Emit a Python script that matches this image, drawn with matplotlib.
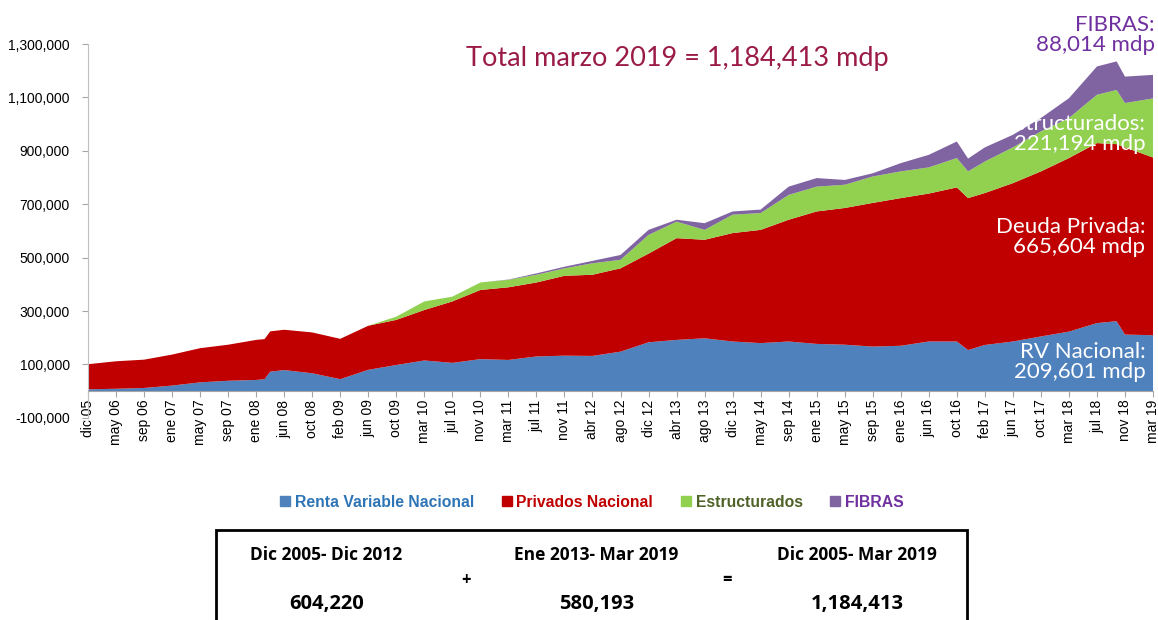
import matplotlib.pyplot as plt
from matplotlib.patches import Rectangle
from matplotlib.lines import Line2D
from matplotlib.ticker import FuncFormatter

# position along the category axis, in tick units (0 = dic 05, 38 = mar 19)
pos = [0, 1, 2, 3, 4, 5, 6, 6.3, 6.5, 7, 8, 9, 10, 11, 12, 13, 14, 15, 16, 17, 18, 19,
       20, 21, 22, 23, 24, 25, 26, 27, 28, 29, 30, 31, 31.4, 32, 33, 34, 35, 36, 36.7, 37, 38]

# saldo por tipo de instrumento, miles de millones de pesos (mdp)
rv_nacional = [7, 9, 12, 21, 33, 39, 42, 45, 73, 79, 67, 45, 80, 98, 115, 106, 120, 117, 130, 133, 132, 148,
               183, 192, 198, 186, 180, 186, 177, 174, 167, 170, 186, 186, 154, 173, 186, 205, 223, 255, 262, 212, 209.6]
privados = [94, 103, 106, 116, 128, 135, 150, 150, 151, 151, 153, 151, 165, 169, 189, 230, 259, 272, 277, 299, 304, 312,
            332, 381, 369, 406, 424, 456, 496, 512, 538, 553, 554, 577, 569, 569, 593, 618, 650, 674, 663, 701, 665.6]
estructurados = [0, 0, 0, 0, 0, 0, 0, 0, 0, 0, 0, 0, 0, 12, 32, 18, 28, 28, 29, 28, 43, 32,
                 70, 62, 37, 69, 63, 93, 93, 87, 99, 100, 98, 110, 100, 118, 134, 150, 150, 181, 203, 166, 221.2]
fibras = [0, 0, 0, 0, 0, 0, 0, 0, 0, 0, 0, 0, 0, 0, 0, 0, 0, 1, 5, 6, 9, 18,
          19, 7, 25, 12, 13, 31, 32, 18, 12, 31, 47, 62, 48, 53, 47, 50, 74, 106, 107, 99, 88.0]

tick_labels = ['dic 05', 'may 06', 'sep 06', 'ene 07', 'may 07', 'sep 07', 'ene 08', 'jun 08', 'oct 08',
               'feb 09', 'jun 09', 'oct 09', 'mar 10', 'jul 10', 'nov 10', 'mar 11', 'jul 11', 'nov 11',
               'abr 12', 'ago 12', 'dic 12', 'abr 13', 'ago 13', 'dic 13', 'may 14', 'sep 14', 'ene 15',
               'may 15', 'sep 15', 'ene 16', 'jun 16', 'oct 16', 'feb 17', 'jun 17', 'oct 17', 'mar 18',
               'jul 18', 'nov 18', 'mar 19']

series_names = ['Renta Variable Nacional', 'Privados Nacional', 'Estructurados', 'FIBRAS']
colors = ['#4F81BD', '#C00000', '#92D050', '#8064A2']
text_colors = ['#2E75B6', '#C00000', '#4F6228', '#7030A0']

periods = ['Dic 2005- Dic 2012', 'Ene 2013- Mar 2019', 'Dic 2005- Mar 2019']
period_totals = ['604,220', '580,193', '1,184,413']

plt.rcParams['font.family'] = ['Liberation Sans', 'DejaVu Sans']

fig = plt.figure(figsize=(11.58, 6.2), dpi=100)
ax = fig.add_axes([0.076, 0.326, 0.9197, 0.603])

for s in ['top', 'right']:
    ax.spines[s].set_visible(False)
ax.spines['bottom'].set_position(('data', 0))
ax.spines['bottom'].set_color('#A6A6A6')
ax.spines['left'].set_color('#BFBFBF')

k = 1000
ax.stackplot(pos, [v * k for v in rv_nacional], [v * k for v in privados],
             [v * k for v in estructurados], [v * k for v in fibras],
             colors=colors, linewidth=0)

ax.set_xlim(0, 38)
ax.set_ylim(-100000, 1300000)
ax.set_yticks(range(-100000, 1300001, 200000))
ax.yaxis.set_major_formatter(FuncFormatter(lambda v, p: f'{int(v):,}'))
ax.set_xticks(range(len(tick_labels)))
ax.set_xticklabels(tick_labels)
ax.tick_params(axis='both', colors='#A6A6A6', labelcolor='black', labelsize=10, length=4)
ax.tick_params(axis='x', labelrotation=90, pad=2)
ax.tick_params(axis='y', pad=9)

reg = {'family': 'Lato'}
fig.text(0.585, 0.906, 'Total marzo 2019 = 1,184,413 mdp', color='#9B1B48',
         fontsize=19.5, ha='center', va='center', **reg)

fig.text(0.997, 0.944, 'FIBRAS:\n88,014 mdp', color='#7030A0', fontsize=16,
         ha='right', va='center', linespacing=1.0, **reg)
fig.text(0.989, 0.784, 'Estructurados:\n221,194 mdp', color='white', fontsize=16,
         ha='right', va='center', linespacing=1.0, **reg)
fig.text(0.989, 0.618, 'Deuda Privada:\n665,604 mdp', color='white', fontsize=16,
         ha='right', va='center', linespacing=1.0, **reg)
fig.text(0.989, 0.416, 'RV Nacional:\n209,601 mdp', color='white', fontsize=16,
         ha='right', va='center', linespacing=1.0, **reg)

handles = [Line2D([], [], marker='s', linestyle='', color=c, markersize=7) for c in colors]
leg = fig.legend(handles, series_names, loc='center', bbox_to_anchor=(0.51, 0.19), ncol=4,
                 frameon=False, handletextpad=0.1, columnspacing=1.6, handlelength=1,
                 prop={'family': 'Liberation Sans', 'size': 11.3, 'weight': 'bold'})
for t, c in zip(leg.get_texts(), text_colors):
    t.set_color(c)

fig.patches.append(Rectangle((0.1865, -0.05), 0.6485, 0.195, transform=fig.transFigure,
                             fill=False, edgecolor='black', linewidth=2))
bold = {'family': 'Open Sans', 'weight': 'bold'}
xs = [0.282, 0.515, 0.740]
for x, p, v in zip(xs, periods, period_totals):
    fig.text(x, 0.105, p, fontsize=12.5, ha='center', va='center', **bold)
    fig.text(x, 0.026, v, fontsize=14.5, ha='center', va='center', **bold)
fig.text(0.402, 0.065, '+', fontsize=12, ha='center', va='center', **bold)
fig.text(0.628, 0.065, '=', fontsize=12, ha='center', va='center', **bold)

fig.savefig('out.png', dpi=100)
